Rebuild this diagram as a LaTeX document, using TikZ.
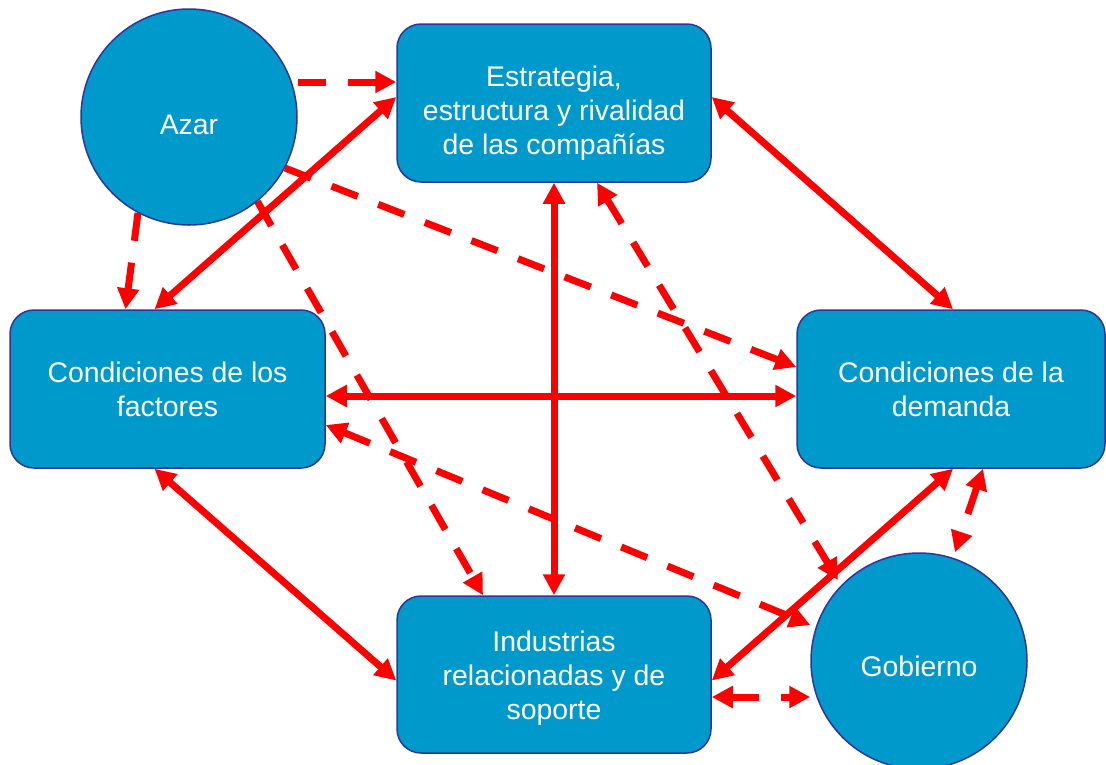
\documentclass[tikz,border=0pt]{standalone}
\usepackage{fontspec}
\setmainfont{Liberation Sans}
\usetikzlibrary{arrows.meta}
\definecolor{boxblue}{RGB}{0,153,204}
\definecolor{edgeblue}{RGB}{51,51,153}
\begin{document}
\begin{tikzpicture}[x=1pt, y=-1pt,
    block/.style={draw=edgeblue, line width=1.5pt, fill=boxblue, rounded corners=24pt, text=white, align=center, inner sep=0pt, font=\fontsize{28.4}{34}\selectfont},
    ball/.style={draw=edgeblue, line width=1.5pt, fill=boxblue, circle, minimum size=216pt, inner sep=0pt, text=white, font=\fontsize{28.4}{34}\selectfont},
    link/.style={draw=red, line width=7pt, {Triangle[length=21pt,width=21pt]}-{Triangle[length=21pt,width=21pt]}},
    hint/.style={draw=red, line width=7pt, dash pattern=on 28pt off 22pt, -{Triangle[length=21pt,width=21pt]}},
    hint2/.style={hint, {Triangle[length=21pt,width=21pt]}-{Triangle[length=21pt,width=21pt]}}]
    \useasboundingbox (0,0) rectangle (1106,764);
    \node[block, minimum width=314pt, minimum height=158pt, text height=108.5pt] (estr) at (554,103) {Estrategia,\\estructura y rivalidad\\de las compañías};
    \node[block, minimum width=315pt, minimum height=158pt] (fact) at (167.5,389) {Condiciones de los\\factores};
    \node[block, minimum width=308pt, minimum height=158pt] (dem) at (951,389) {Condiciones de la\\demanda};
    \node[block, minimum width=314pt, minimum height=157pt, text height=95.5pt] (ind) at (554,674.5) {Industrias\\relacionadas y de\\soporte};
    \node[ball, text height=34.7pt] (azar) at (189,117) {Azar};
    \node[ball, text height=31pt] (gob) at (919,661) {Gobierno};
    \draw[link] ([yshift=6pt]estr.west) -- ([xshift=-13pt]fact.north);
    \draw[link] ([yshift=6pt]estr.east) -- ([xshift=2pt]dem.north);
    \draw[link] (estr.south) -- (ind.north);
    \draw[link] ([yshift=-7pt]fact.east) -- ([yshift=-7pt]dem.west);
    \draw[link] ([xshift=-13pt]fact.south) -- ([yshift=-6pt]ind.west);
    \draw[link] ([xshift=2pt]dem.south) -- ([yshift=-6pt]ind.east);
    \draw[hint] ([yshift=35pt]azar.east) -- ([yshift=21pt]estr.west);
    \draw[hint] (azar.242) -- ([xshift=-42pt]fact.north);
    \draw[hint] (azar.332) -- ([yshift=22pt]dem.west);
    \draw[hint] (azar.309) -- ([xshift=-71pt]ind.north);
    \draw[hint2] ([yshift=-36pt]fact.east) -- ([yshift=36pt]gob.west);
    \draw[hint2] ([xshift=43pt]estr.south) -- ([shift={(-81,-81)}]gob.center);
    \draw[hint2] ([xshift=32pt]dem.south) -- ([xshift=36pt]gob.north);
    \draw[hint2] ([yshift=-22.5pt]ind.east) -- ([yshift=-36pt]gob.west);
\end{tikzpicture}
\end{document}
